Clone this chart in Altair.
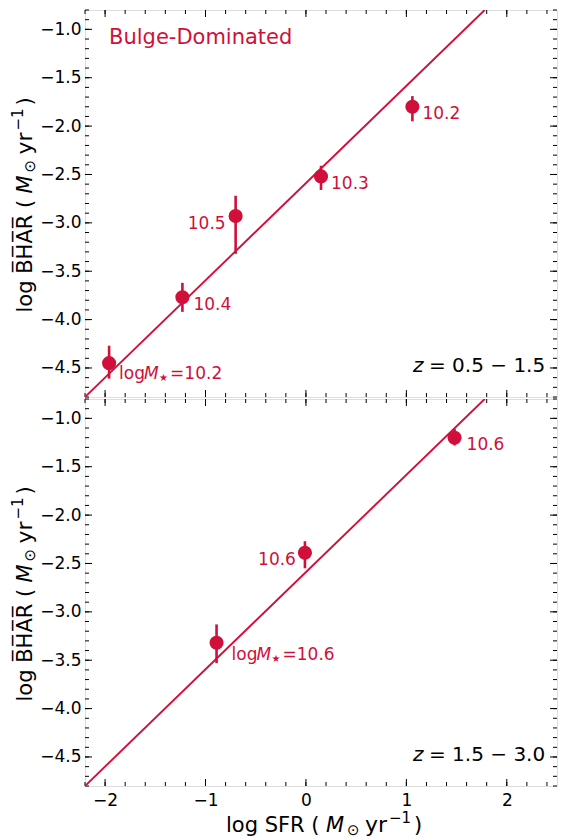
import altair as alt
import pandas as pd

# ---------------- data ----------------
top_x = [-1.96, -1.23, -0.70, 0.15, 1.06]
top_y = [-4.45, -3.77, -2.93, -2.52, -1.80]
top_lo = [-4.61, -3.92, -3.32, -2.66, -1.95]
top_hi = [-4.27, -3.62, -2.72, -2.41, -1.69]
top_mass = ["10.2", "10.4", "10.5", "10.3", "10.2"]

bot_x = [-0.89, -0.01, 1.48]
bot_y = [-3.32, -2.39, -1.20]
bot_lo = [-3.53, -2.55, -1.28]
bot_hi = [-3.13, -2.27, -1.11]
bot_mass = ["10.6", "10.6", "10.6"]

fit_x = [-2.2, 1.78]
fit_y = [-4.8, -0.8]

x_major = [-2, -1, 0, 1, 2]
x_minor = [round(-2.2 + 0.2 * i, 1) for i in range(24)]
y_major = [-4.5, -4.0, -3.5, -3.0, -2.5, -2.0, -1.5, -1.0]
y_minor = [round(-4.8 + 0.1 * i, 1) for i in range(41)]

# ---------------- styling ----------------
RED = "#d0103a"
FONT = "DejaVu Sans"
W, H = 472, 387
XDOM = [-2.2, 2.5]
YDOM = [-4.8, -0.8]
TF = 21  # axis-title font size

# label placement (dx, dy, align, has "logM*=" prefix) per point
top_lab_style = [(10, 11, "left", True), (11, 8, "left", False), (-10, 8, "right", False),
                 (10, 8, "left", False), (10, 7, "left", False)]
bot_lab_style = [(15, 12, "left", True), (-9, 7, "right", False), (12, 7, "left", False)]


# title pieces: (text, offset along reading direction, offset across, style, size)
def title_parts(prefix, shift):
    return [(prefix, 0, 0, "normal", TF),
            ("M", 100 + shift, 0, "italic", TF),
            ("\u2299", 121 + shift, 3, "normal", 15),
            ("yr", 139 + shift, 0, "normal", 22),
            ("\u22121", 163 + shift, -9, "normal", 15),
            (")", 188 + shift, 0, "normal", TF)]


xs = alt.Scale(domain=XDOM, nice=False, zero=False)
ys = alt.Scale(domain=YDOM, nice=False, zero=False)

y_axis = alt.Axis(values=y_major, format=".1f", ticks=False, domain=False, grid=False,
                  labelPadding=4, labelFontSize=17, labelColor="black", labelFont=FONT,
                  title=None)
x_axis_bottom = alt.Axis(values=x_major, format="d", ticks=False, domain=False, grid=False,
                         labelPadding=6, labelFontSize=17, labelColor="black", labelFont=FONT,
                         title=None)


def X(field, show):
    return alt.X(field, type="quantitative", scale=xs, axis=x_axis_bottom if show else None)


def Y(field):
    return alt.Y(field, type="quantitative", scale=ys, axis=y_axis)


def panel(px, py, plo, phi, pmass, styles, zlabel, show_x, bulge):
    df = pd.DataFrame({"x": px, "y": py, "lo": plo, "hi": phi, "m": pmass})
    layers = []
    # tick marks (inward, on all four sides)
    for vals, ln in ((x_minor, 4), (x_major, 7)):
        d = pd.DataFrame({"v": vals})
        layers.append(alt.Chart(d).mark_rule(color="black", strokeWidth=1).encode(
            x=X("v", show_x), y=alt.value(H), y2=alt.value(H - ln)))
        layers.append(alt.Chart(d).mark_rule(color="black", strokeWidth=1).encode(
            x=X("v", show_x), y=alt.value(0), y2=alt.value(ln)))
    for vals, ln in ((y_minor, 4), (y_major, 7)):
        d = pd.DataFrame({"v": vals})
        layers.append(alt.Chart(d).mark_rule(color="black", strokeWidth=1).encode(
            y=Y("v"), x=alt.value(0), x2=alt.value(ln)))
        layers.append(alt.Chart(d).mark_rule(color="black", strokeWidth=1).encode(
            y=Y("v"), x=alt.value(W), x2=alt.value(W - ln)))
    # fit line
    fit = pd.DataFrame({"x": fit_x, "y": fit_y})
    layers.append(alt.Chart(fit).mark_line(color=RED, strokeWidth=1.9, clip=True).encode(
        x=X("x", show_x), y=Y("y")))
    # error bars
    layers.append(alt.Chart(df).mark_rule(color=RED, strokeWidth=2.6).encode(
        x=X("x", show_x), y=Y("lo"), y2="hi"))
    # points
    layers.append(alt.Chart(df).mark_circle(color=RED, opacity=1, size=200).encode(
        x=X("x", show_x), y=Y("y")))
    # labels
    for i, (dx, dy, align, prefix) in enumerate(styles):
        row = df.iloc[[i]]
        if prefix:
            parts = [("log", 0, 0, "normal", 17), ("M", 25, 0, "italic", 17),
                     ("\u2605", 40, 4, "normal", 10), ("=" + pmass[i], 51, 0, "normal", 17)]
            for txt, ox, oy, st, fs in parts:
                layers.append(alt.Chart(row).mark_text(
                    text=txt, color=RED, font=FONT, fontSize=fs, fontStyle=st, align="left",
                    baseline="middle", dx=dx + ox, dy=dy + oy).encode(x=X("x", show_x), y=Y("y")))
        else:
            layers.append(alt.Chart(row).mark_text(
                color=RED, font=FONT, fontSize=17, align=align, baseline="middle",
                dx=dx, dy=dy).encode(x=X("x", show_x), y=Y("y"), text="m:N"))
    # redshift annotation
    anno = pd.DataFrame({"t": [zlabel]})
    layers.append(alt.Chart(anno).mark_text(
        text="z", fontStyle="italic", font=FONT, fontSize=20, color="black", align="left",
        baseline="alphabetic").encode(x=alt.value(328), y=alt.value(362)))
    layers.append(alt.Chart(anno).mark_text(
        font=FONT, fontSize=20, color="black", align="left", baseline="alphabetic").encode(
        x=alt.value(344), y=alt.value(362), text="t:N"))
    if bulge:
        layers.append(alt.Chart(pd.DataFrame({"t": ["Bulge-Dominated"]})).mark_text(
            font=FONT, fontSize=21, color=RED, align="left", baseline="middle").encode(
            x=alt.value(24), y=alt.value(28), text="t:N"))
    # y-axis title (rotated, built from pieces)
    one = pd.DataFrame({"k": [0]})
    for txt, along, across, st, fs in title_parts("log B\u0305H\u0305A\u0305R\u0305 (", 19):
        layers.append(alt.Chart(one).mark_text(
            text=txt, angle=270, font=FONT, fontSize=fs, fontStyle=st, color="black",
            align="left", baseline="alphabetic").encode(
            x=alt.value(-53 + across), y=alt.value(H / 2 + 109 - along)))
    # x-axis title
    if show_x:
        for txt, along, across, st, fs in title_parts("log SFR (", 0):
            layers.append(alt.Chart(one).mark_text(
                text=txt, font=FONT, fontSize=fs, fontStyle=st, color="black",
                align="left", baseline="alphabetic").encode(
                x=alt.value(W / 2 - 95 + along), y=alt.value(H + 46 + across)))
    return alt.layer(*layers).properties(width=W, height=H)


top = panel(top_x, top_y, top_lo, top_hi, top_mass, top_lab_style,
            "= 0.5 \u2212 1.5", False, True)
bottom = panel(bot_x, bot_y, bot_lo, bot_hi, bot_mass, bot_lab_style,
               "= 1.5 \u2212 3.0", True, False)

chart = alt.vconcat(top, bottom, spacing=0).properties(
    padding={"left": 2, "top": 1, "right": 0, "bottom": 0}
).configure_view(stroke="black", strokeWidth=1.2).configure(font=FONT)

chart.save("out.html", embed_options={"renderer": "svg", "actions": False})
